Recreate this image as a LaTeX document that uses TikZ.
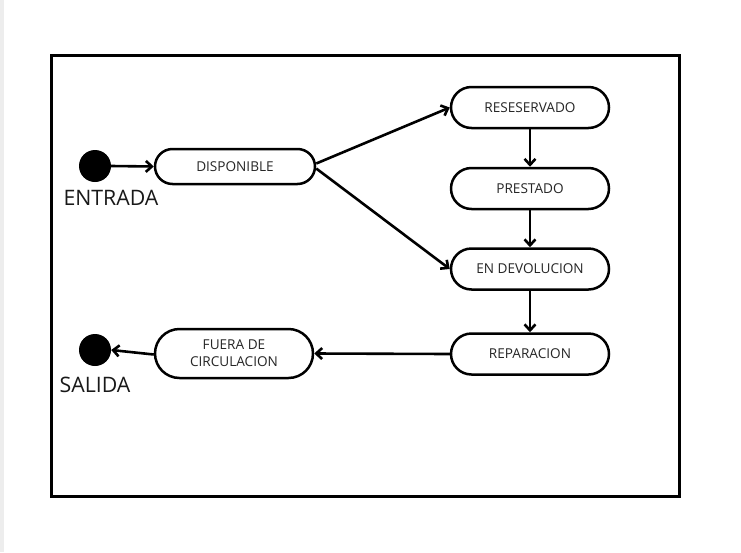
\documentclass[tikz,border=0pt]{standalone}
\usepackage{fontspec}
\setmainfont{Open Sans}
\usetikzlibrary{arrows.meta,shapes.misc}
\tikzset{
  state/.style={draw=black, line width=2.5pt, rounded rectangle, minimum width=158pt, minimum height=41pt, inner sep=0pt, align=center, font=\fontsize{13.6}{17}\selectfont, text=black!85},
  dot/.style={circle, fill=black, minimum size=32pt, inner sep=0pt},
  lbl/.style={font=\fontsize{21.3}{25}\selectfont, text=black!90},
  conn/.style={line width=2.6pt, -{Straight Barb[length=6pt,width=11pt,line width=2.6pt]}},
}
\begin{document}
\begin{tikzpicture}[x=1pt,y=-1pt]
\useasboundingbox (0,0) rectangle (741,552);
\fill[white] (0,0) rectangle (741,552);
\fill[black!7] (0,0) rectangle (4,552);
\draw[line width=3pt] (51.5,55.5) rectangle (679.5,496.5);
\node[dot] (in) at (95,166) {};
\node[lbl] (inl) at (111,198) {ENTRADA};
\node[state, minimum width=160pt, minimum height=35pt] (disp) at (235,166.5) {DISPONIBLE};
\node[state] (res) at (530,107.5) {RESESERVADO};
\node[state] (pres) at (530,188.5) {PRESTADO};
\node[state] (dev) at (530,269) {EN DEVOLUCION};
\node[state] (rep) at (530,354) {REPARACION};
\node[state, minimum height=49pt] (fuera) at (234,353.5) {FUERA DE\\CIRCULACION};
\node[dot] (out) at (95,350) {};
\node[lbl] (outl) at (95,385) {SALIDA};
\draw[conn] (in.east) -- (disp.west);
\draw[conn] (disp.east) ++(0,-3) coordinate (d1) (d1) -- (res.west);
\draw[conn] (disp.east) ++(0,2) coordinate (d2) (d2) -- (dev.west);
\draw[conn] (res.south) -- (pres.north);
\draw[conn] (pres.south) -- (dev.north);
\draw[conn] (dev.south) -- (rep.north);
\draw[conn] (rep.west) -- (fuera.east);
\draw[conn] (fuera.west) ++(0,1) coordinate (f1) (f1) -- (out.east);
\end{tikzpicture}
\end{document}
